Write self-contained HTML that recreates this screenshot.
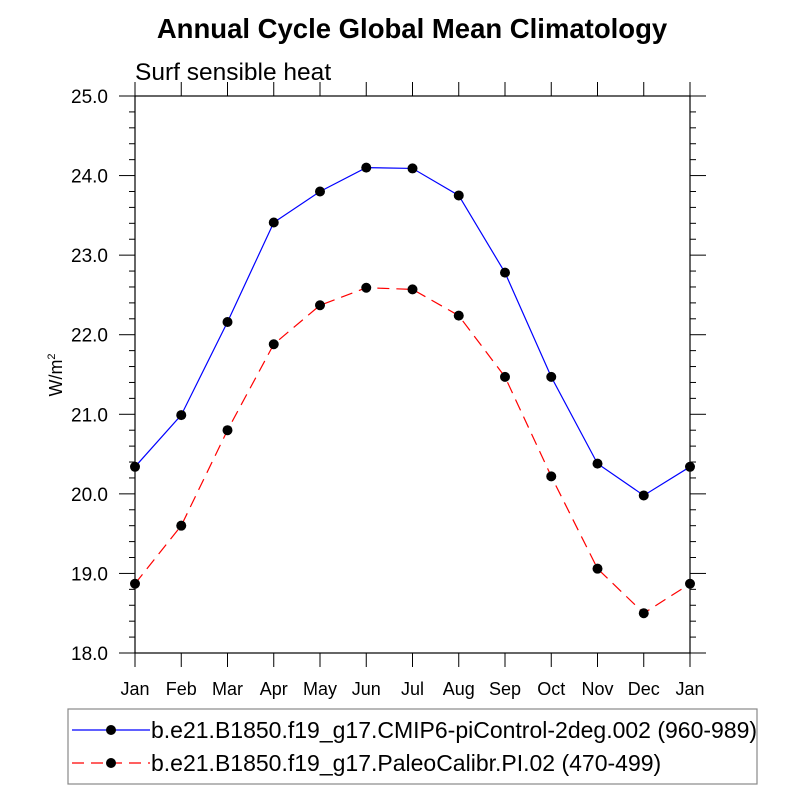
<!DOCTYPE html>
<html><head><meta charset="utf-8"><style>
body{margin:0;background:#fff;}
svg text{font-family:"Liberation Sans",sans-serif;fill:#000;}
</style></head><body>
<svg id="chart" width="800" height="800" viewBox="0 0 800 800">
<rect width="800" height="800" fill="#fff"/>
<text x="412" y="38" text-anchor="middle" font-size="27.5" font-weight="bold">Annual Cycle Global Mean Climatology</text>
<text x="135" y="80" font-size="24.5">Surf sensible heat</text>
<text transform="translate(62,375) rotate(-90)" text-anchor="middle" font-size="18">W/m<tspan dy="-7" font-size="11">2</tspan></text>
<g id="axes"></g>
<g id="series"></g>
<g>
<rect x="68" y="709" width="689" height="75" fill="none" stroke="#888" stroke-width="1.2"/>
<line x1="72" y1="730" x2="150" y2="730" stroke="#0000ff" stroke-width="1.2"/>
<circle cx="111" cy="730" r="5" fill="#000"/>
<text x="151" y="738" font-size="23">b.e21.B1850.f19_g17.CMIP6-piControl-2deg.002 (960-989)</text>
<line x1="72" y1="763" x2="150" y2="763" stroke="#ff0000" stroke-width="1.2" stroke-dasharray="12,7"/>
<circle cx="111" cy="763" r="5" fill="#000"/>
<text x="151" y="771" font-size="23">b.e21.B1850.f19_g17.PaleoCalibr.PI.02 (470-499)</text>
</g>
</svg>
<script>
const months=["Jan","Feb","Mar","Apr","May","Jun","Jul","Aug","Sep","Oct","Nov","Dec","Jan"];
const yTicks=["18.0","19.0","20.0","21.0","22.0","23.0","24.0","25.0"];
const piControl=[20.34,20.99,22.16,23.41,23.80,24.10,24.09,23.75,22.78,21.47,20.38,19.98,20.34];
const paleoCalibr=[18.87,19.60,20.80,21.88,22.37,22.59,22.57,22.24,21.47,20.22,19.06,18.50,18.87];
const L=135,R=690,T=96,B=653,ymin=18,ymax=25;
const xs=i=>L+(R-L)*i/(months.length-1);
const ys=v=>B-(B-T)*(v-ymin)/(ymax-ymin);
const NS="http://www.w3.org/2000/svg";
function mk(tag,attrs,parent){const e=document.createElementNS(NS,tag);for(const k in attrs)e.setAttribute(k,attrs[k]);parent.appendChild(e);return e;}
const ax=document.getElementById('axes');
const frame=mk('rect',{x:L,y:T,width:R-L,height:B-T,fill:'none',stroke:'#000','stroke-width':1.2},ax);


for(let v=ymin;v<=ymax+1e-9;v+=0.2){
  const y=ys(v);const major=Math.abs(v-Math.round(v))<1e-6;const len=major?16:6;
  mk('line',{x1:L-len,y1:y,x2:L,y2:y,stroke:'#000','stroke-width':1},ax);
  mk('line',{x1:R,y1:y,x2:R+len,y2:y,stroke:'#000','stroke-width':1},ax);
}
yTicks.forEach(t=>{
  const tx=mk('text',{x:L-27,y:ys(parseFloat(t))+7,'text-anchor':'end','font-size':19},ax);
  tx.textContent=t;
  
  
});
months.forEach((m,i)=>{
  const x=xs(i);
  mk('line',{x1:x,y1:B,x2:x,y2:B+14,stroke:'#000','stroke-width':1},ax);
  mk('line',{x1:x,y1:T,x2:x,y2:T-14,stroke:'#000','stroke-width':1},ax);
  const tx=mk('text',{x:x,y:B+42,'text-anchor':'middle','font-size':18},ax);
  tx.textContent=m;
  
  
});
const sg=document.getElementById('series');
function draw(vals,color,dash,name){
  const pl=mk('polyline',{points:vals.map((v,i)=>xs(i)+','+ys(v)).join(' '),fill:'none',stroke:color,'stroke-width':1.2,'stroke-dasharray':dash},sg);
  
  
  vals.forEach((v,i)=>{
    const c=mk('circle',{cx:xs(i),cy:ys(v),r:5,fill:'#000'},sg);
    
    
  });
}
draw(piControl,'#0000ff','none','picontrol');
draw(paleoCalibr,'#ff0000','12,7','paleocalibr');
</script>
</body></html>
